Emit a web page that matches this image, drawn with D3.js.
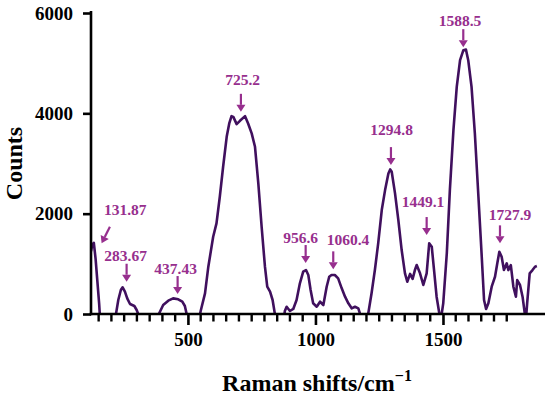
<!DOCTYPE html>
<html>
<head>
<meta charset="utf-8">
<script src="https://cdn.jsdelivr.net/npm/d3@7"></script>
<style>
  body { margin: 0; background: #fff; }
  text { font-family: "Liberation Serif", "Times New Roman", serif; font-weight: bold; }
</style>
</head>
<body>
<svg id="chart" width="550" height="397"></svg>
<script>
// Raman spectrum (negative values fall under the axis and are clipped)
const ramanShift = [120, 125, 131, 138, 145, 152, 158, 185, 216, 227, 237, 244, 253, 262, 273, 290, 299, 305,
    312, 350, 386, 403, 423, 442, 462, 478, 488, 495, 502, 520, 542, 550, 567, 580, 599, 612, 625, 638,
    652, 662, 671, 678, 691, 704, 724, 736, 750, 763, 776, 789, 802, 811, 822, 832, 841, 848, 862, 876,
    880, 887, 900, 913, 926, 939, 952, 963, 972, 981, 991, 1005, 1018, 1031, 1044, 1054, 1063, 1076,
    1089, 1103, 1116, 1129, 1142, 1155, 1168, 1175, 1180, 1200, 1208, 1220, 1233, 1246, 1260, 1273,
    1286, 1293, 1299, 1312, 1325, 1338, 1351, 1360, 1371, 1381, 1390, 1397, 1410, 1423, 1436, 1446,
    1456, 1465, 1475, 1486, 1490, 1495, 1501, 1515, 1527, 1541, 1554, 1567, 1580, 1590, 1599, 1612,
    1625, 1639, 1652, 1661, 1669, 1678, 1691, 1704, 1713, 1721, 1730, 1739, 1750, 1756, 1766, 1776,
    1786, 1791, 1802, 1812, 1821, 1826, 1830, 1840, 1851, 1861, 1868];
const counts = [1250, 1380, 1420, 1100, 650, 200, -300, -1500, -60, 279, 478, 532, 445, 312, 199, 159, 80, 0,
    -150, -1000, 0, 179, 265, 312, 293, 245, 159, 0, -200, -1200, -150, 60, 412, 943, 1540, 1806, 2337, 2935,
    3532, 3798, 3944, 3930, 3785, 3851, 3944, 3798, 3600, 3333, 2603, 1739, 943, 544, 445, 279, 0, -250, -800, -100,
    60, 145, 60, 100, 279, 611, 843, 876, 777, 478, 213, 145, 245, 179, 544, 743, 777, 777,
    711, 512, 345, 213, 113, 145, 113, 0, -200, -200, 40, 412, 876, 1408, 2072, 2470,
    2802, 2882, 2835, 2404, 1873, 1275, 811, 643, 800, 700, 876, 976, 811, 578, 811, 1408,
    1341, 876, 345, 0, -120, 0, 213, 1209, 2470, 3665, 4528, 5060, 5259, 5272, 5060, 4528,
    3598, 2337, 1142, 279, 100, 213, 544, 743, 1010, 1241, 1142, 876, 1010, 876, 976, 544,
    345, 677, 578, 345, 0, -60, 213, 811, 876, 943, 956];

// peak annotations: label, shift the arrow points at, counts at the arrow tip
const peakLabels = ["131.87", "283.67", "437.43", "725.2", "956.6", "1060.4", "1294.8", "1449.1", "1588.5", "1727.9"];
const peakShift = [161.6, 259.6, 459.6, 707.8, 961.6, 1069.8, 1296, 1436, 1579.6, 1723.5];
const peakTip = [1408, 643, 398, 4030, 1016, 890, 2968, 1574, 5319, 1408];

const yTicks = [0, 2000, 4000, 6000];
const xTicks = [500, 1000, 1500];
const xMinorTicks = [150, 200, 250, 300, 350, 400, 450, 550, 600, 650, 700, 750, 800, 850, 900, 950,
    1050, 1100, 1150, 1200, 1250, 1300, 1350, 1400, 1450, 1550, 1600, 1650, 1700, 1750];

// layout of the annotation text relative to the arrow tip (px)
const labelDx = [23.6, -1, -2, 1.7, -5, 14.7, 0.7, -3.7, -3.3, 10];
const labelDy = [-28.3, -21, -20, -26.7, -20.3, -24.3, -30, -28.3, -21, -23.3];

const lineColor = "#40105e", noteColor = "#972f8e";

const svg = d3.select("#chart");

const x = d3.scaleLinear().domain([120, 1900]).range([91, 545]);
const y = d3.scaleLinear().domain([0, 6000]).range([314, 13]);

svg.append("defs").append("clipPath").attr("id", "plotclip")
    .append("rect")
    .attr("x", x(120)).attr("y", 0)
    .attr("width", x(1900) - x(120)).attr("height", y(0));

const spectrum = ramanShift.map((s, i) => ({shift: s, count: counts[i]}));

const line = d3.line()
    .x(d => x(d.shift))
    .y(d => y(d.count));

svg.append("path")
    .datum(spectrum)
    .attr("clip-path", "url(#plotclip)")
    .attr("fill", "none")
    .attr("stroke", lineColor)
    .attr("stroke-width", 2.6)
    .attr("stroke-linejoin", "round")
    .attr("d", line);

// X axis with the major ticks
svg.append("g")
    .attr("transform", `translate(0,${y(0)})`)
    .call(d3.axisBottom(x).tickValues(xTicks).tickSize(11).tickSizeOuter(0).tickPadding(8).tickFormat(d3.format("d")))
    .call(g => g.select(".domain").remove())
    .call(g => g.selectAll("line").attr("stroke-width", 2.6))
    .call(g => g.selectAll("text").attr("font-size", 19).attr("fill", "#000")
        .style("font-family", "'Liberation Serif', serif").style("font-weight", "bold"));

// Y axis
svg.append("g")
    .attr("transform", `translate(${x(120)},0)`)
    .call(d3.axisLeft(y).tickValues(yTicks).tickSize(8).tickSizeOuter(0).tickPadding(10).tickFormat(d3.format("d")))
    .call(g => g.select(".domain").attr("stroke-width", 2.6).attr("d", `M0,${y(0) + 1.3}V${y(6000) - 2}`))
    .call(g => g.selectAll("line").attr("stroke-width", 2.6))
    .call(g => g.selectAll("text").attr("font-size", 19).attr("fill", "#000")
        .style("font-family", "'Liberation Serif', serif").style("font-weight", "bold"));

// peak arrows and labels
const notes = svg.append("g");
peakLabels.forEach((lab, i) => {
    const tx = x(peakShift[i]), ty = y(peakTip[i]);
    const vx = i === 0 ? 8.3 : 0, vy = i === 0 ? -16.6 : -18;
    const len = Math.hypot(vx, vy), ux = vx / len, uy = vy / len;
    const head = 7, half = 4.5;
    const bx = tx + ux * head, by = ty + uy * head;
    notes.append("line")
        .attr("x1", tx + vx).attr("y1", ty + vy)
        .attr("x2", bx).attr("y2", by)
        .attr("stroke", noteColor).attr("stroke-width", 2.2);
    notes.append("path")
        .attr("d", `M${tx},${ty}L${bx - uy * half},${by + ux * half}L${bx + uy * half},${by - ux * half}Z`)
        .attr("fill", noteColor);
    notes.append("text")
        .attr("x", tx + labelDx[i]).attr("y", ty + labelDy[i])
        .attr("text-anchor", "middle")
        .attr("font-size", 15.5)
        .attr("fill", noteColor)
        .text(lab);
});

// axis titles
svg.append("text")
    .attr("transform", `translate(22,${(y(0) + y(6000)) / 2}) rotate(-90)`)
    .attr("text-anchor", "middle")
    .attr("font-size", 24)
    .text("Counts");

const xt = svg.append("text")
    .attr("x", 317).attr("y", 391)
    .attr("text-anchor", "middle")
    .attr("font-size", 24);
xt.append("tspan").text("Raman shifts/cm");
xt.append("tspan").attr("dy", -10).attr("font-size", 16).text("\u22121");

// minor x ticks and the x axis line, drawn last
svg.append("path")
    .attr("d", xMinorTicks.map(d => `M${x(d)},${y(0)}V${y(0) + 7.5}`).join(""))
    .attr("fill", "none")
    .attr("stroke", "#000")
    .attr("stroke-width", 2.4);
svg.append("line")
    .attr("x1", x(120) - 1.3).attr("x2", x(1900))
    .attr("y1", y(0)).attr("y2", y(0))
    .attr("stroke", "#000")
    .attr("stroke-width", 2.6);
</script>
</body>
</html>
